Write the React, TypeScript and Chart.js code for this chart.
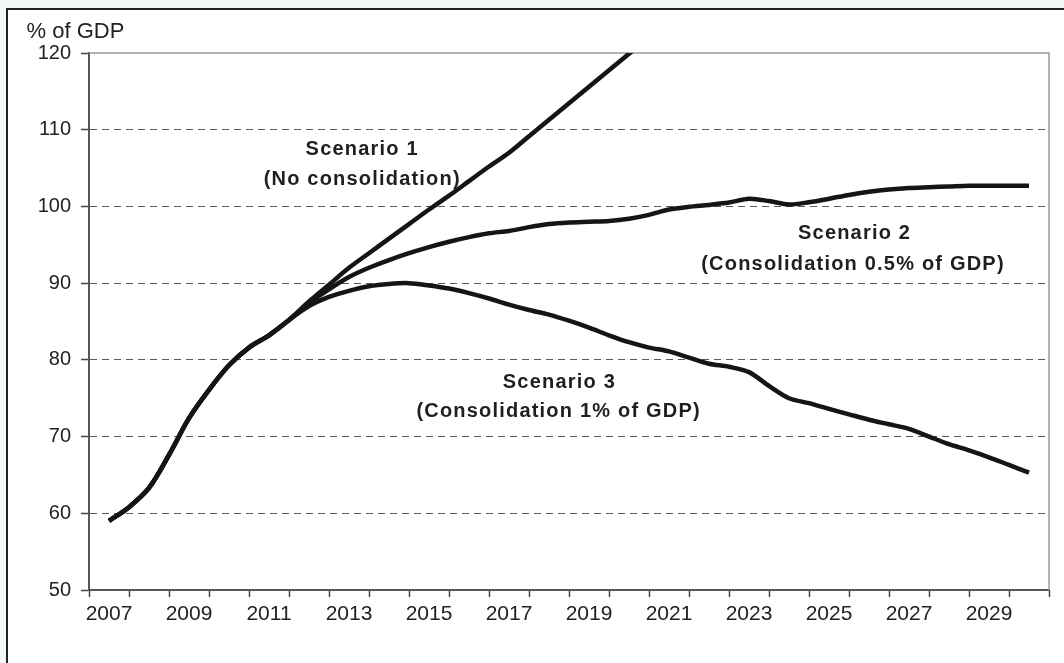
import { useEffect, useRef } from 'react';
import { Chart, registerables } from 'chart.js';

Chart.register(...registerables);

// Half-year positions (years)
const YEARS = [
  2007, 2007.5, 2008, 2008.5, 2009, 2009.5, 2010, 2010.5, 2011, 2011.5,
  2012, 2012.5, 2013, 2013.5, 2014, 2014.5, 2015, 2015.5, 2016, 2016.5,
  2017, 2017.5, 2018, 2018.5, 2019, 2019.5, 2020, 2020.5, 2021, 2021.5,
  2022, 2022.5, 2023, 2023.5, 2024, 2024.5, 2025, 2025.5, 2026, 2026.5,
  2027, 2027.5, 2028, 2028.5, 2029, 2029.5, 2030,
];

// Common path 2007 - 2011.5 (% of GDP)
const SHARED = [59.0, 60.8, 63.3, 67.6, 72.4, 76.1, 79.3, 81.6, 83.2, 85.2];

// From 2012 onwards
const SCENARIO_1 = [
  87.6, 89.8, 92.0, 93.9, 95.8, 97.7, 99.6, 101.4, 103.3, 105.2,
  107.0, 109.15, 111.3, 113.45, 115.6, 117.75, 119.9, 122.05,
];
const SCENARIO_2 = [
  87.4, 89.2, 90.8, 92.0, 93.0, 93.9, 94.7, 95.4, 96.0, 96.5,
  96.8, 97.3, 97.7, 97.9, 98.0, 98.1, 98.4, 98.9, 99.6, 99.95,
  100.2, 100.5, 101.0, 100.7, 100.25, 100.55, 101.0, 101.5, 101.9, 102.2,
  102.4, 102.5, 102.6, 102.7, 102.7, 102.7, 102.7,
];
const SCENARIO_3 = [
  87.0, 88.2, 89.0, 89.6, 89.9, 90.0, 89.7, 89.3, 88.7, 88.0,
  87.2, 86.5, 85.9, 85.1, 84.2, 83.2, 82.3, 81.6, 81.1, 80.3,
  79.5, 79.1, 78.4, 76.6, 75.0, 74.35, 73.6, 72.9, 72.2, 71.6,
  71.0, 70.0, 69.0, 68.2, 67.3, 66.3, 65.3,
];

const X_TICK_LABELS = ['2007', '2009', '2011', '2013', '2015', '2017', '2019', '2021', '2023', '2025', '2027', '2029'];
const Y_MIN = 50;
const Y_MAX = 120;
const Y_STEP = 10;
const UNIT_LABEL = '% of GDP';

const ANNOTATIONS = [
  { text: 'Scenario 1', x: 2013.33, y: 107.4 },
  { text: '(No consolidation)', x: 2013.33, y: 103.45 },
  { text: 'Scenario 2', x: 2025.64, y: 96.5 },
  { text: '(Consolidation 0.5% of GDP)', x: 2025.6, y: 92.4 },
  { text: 'Scenario 3', x: 2018.26, y: 77.0 },
  { text: '(Consolidation 1% of GDP)', x: 2018.24, y: 73.25 },
];

const FONT = '"Liberation Sans", Arial, Helvetica, sans-serif';

export default function App() {
  const ref = useRef<HTMLCanvasElement>(null);

  useEffect(() => {
    const canvas = ref.current;
    if (!canvas) return;

    const toPoints = (vals: number[]) => vals.map((v, i) => ({ x: YEARS[i], y: v }));
    const series = [
      { name: 'Scenario 1', values: [...SHARED, ...SCENARIO_1] },
      { name: 'Scenario 2', values: [...SHARED, ...SCENARIO_2] },
      { name: 'Scenario 3', values: [...SHARED, ...SCENARIO_3] },
    ];

    const overlay = {
      id: 'overlay',
      beforeDatasetsDraw(chart: any) {
        const { ctx, chartArea: a } = chart;
        ctx.save();
        ctx.strokeStyle = '#9a9a9a';
        ctx.lineWidth = 1.5;
        ctx.beginPath();
        ctx.moveTo(a.left, a.top);
        ctx.lineTo(a.right, a.top);
        ctx.lineTo(a.right, a.bottom);
        ctx.stroke();
        ctx.restore();
      },
      afterDatasetsDraw(chart: any) {
        const { ctx, chartArea: a, scales } = chart;
        const xs = scales.x;
        const ys = scales.y;
        ctx.save();
        ctx.fillStyle = '#1f1f1f';
        ctx.textAlign = 'center';
        ctx.textBaseline = 'middle';
        ctx.font = `bold 20px ${FONT}`;
        (ctx as any).letterSpacing = '1.2px';
        for (const an of ANNOTATIONS) {
          ctx.fillText(an.text, xs.getPixelForValue(an.x), ys.getPixelForValue(an.y));
        }
        (ctx as any).letterSpacing = '0px';
        ctx.font = `22px ${FONT}`;
        ctx.textAlign = 'left';
        ctx.fillStyle = '#222';
        ctx.fillText(UNIT_LABEL, a.left - 62.5, a.top - 21);
        ctx.restore();
      },
    };

    const chart = new Chart(canvas, {
      type: 'line',
      data: {
        datasets: series.map((s) => ({
          label: s.name,
          data: toPoints(s.values),
          borderColor: '#151515',
          borderWidth: 4.5,
          pointRadius: 0,
          tension: 0.3,
          fill: false,
        })),
      },
      options: {
        animation: false,
        responsive: false,
        events: [],
        layout: { padding: { left: 0, top: 53, right: 15, bottom: 23 } },
        plugins: { legend: { display: false }, tooltip: { enabled: false } },
        scales: {
          x: {
            type: 'linear',
            min: 2006.5,
            max: 2030.5,
            ticks: {
              stepSize: 0.5,
              autoSkip: false,
              maxRotation: 0,
              minRotation: 0,
              color: '#222',
              font: { family: FONT, size: 21 },
              padding: 5,
              callback: (v: any) => (X_TICK_LABELS.includes(String(v)) ? String(v) : ''),
            },
            grid: {
              drawOnChartArea: false,
              tickLength: 7,
              tickWidth: 1.5,
              tickColor: (c: any) => (c.tick && Number.isInteger(c.tick.value) ? 'rgba(0,0,0,0)' : '#444'),
            },
            border: { display: true, color: '#555', width: 2 },
            afterFit: (s: any) => { s.height = 50; },
          },
          y: {
            min: Y_MIN,
            max: Y_MAX,
            ticks: {
              stepSize: Y_STEP,
              color: '#222',
              font: { family: FONT, size: 20 },
              padding: 10,
            },
            grid: {
              color: (c: any) => (c.tick && (c.tick.value === Y_MIN || c.tick.value === Y_MAX) ? 'rgba(0,0,0,0)' : '#5a5a5a'),
              lineWidth: 1,
              tickLength: 8,
              tickWidth: 1.5,
              tickColor: '#444',
            },
            border: { display: true, color: '#555', width: 2, dash: [7, 5] },
            afterFit: (s: any) => { s.width = 89; },
          },
        },
      },
      plugins: [overlay],
    } as any);

    return () => chart.destroy();
  }, []);

  return (
    <div style={{ position: 'fixed', left: 0, top: 0, width: 1064, height: 663, background: '#f3f6f7', overflow: 'hidden' }}>
      <div style={{ position: 'absolute', left: 6, top: 8, width: 1100, height: 700, border: '2px solid #222', background: '#ffffff' }} />
      <canvas ref={ref} width={1064} height={663} style={{ position: 'absolute', left: 0, top: 0, width: 1064, height: 663 }} />
    </div>
  );
}
